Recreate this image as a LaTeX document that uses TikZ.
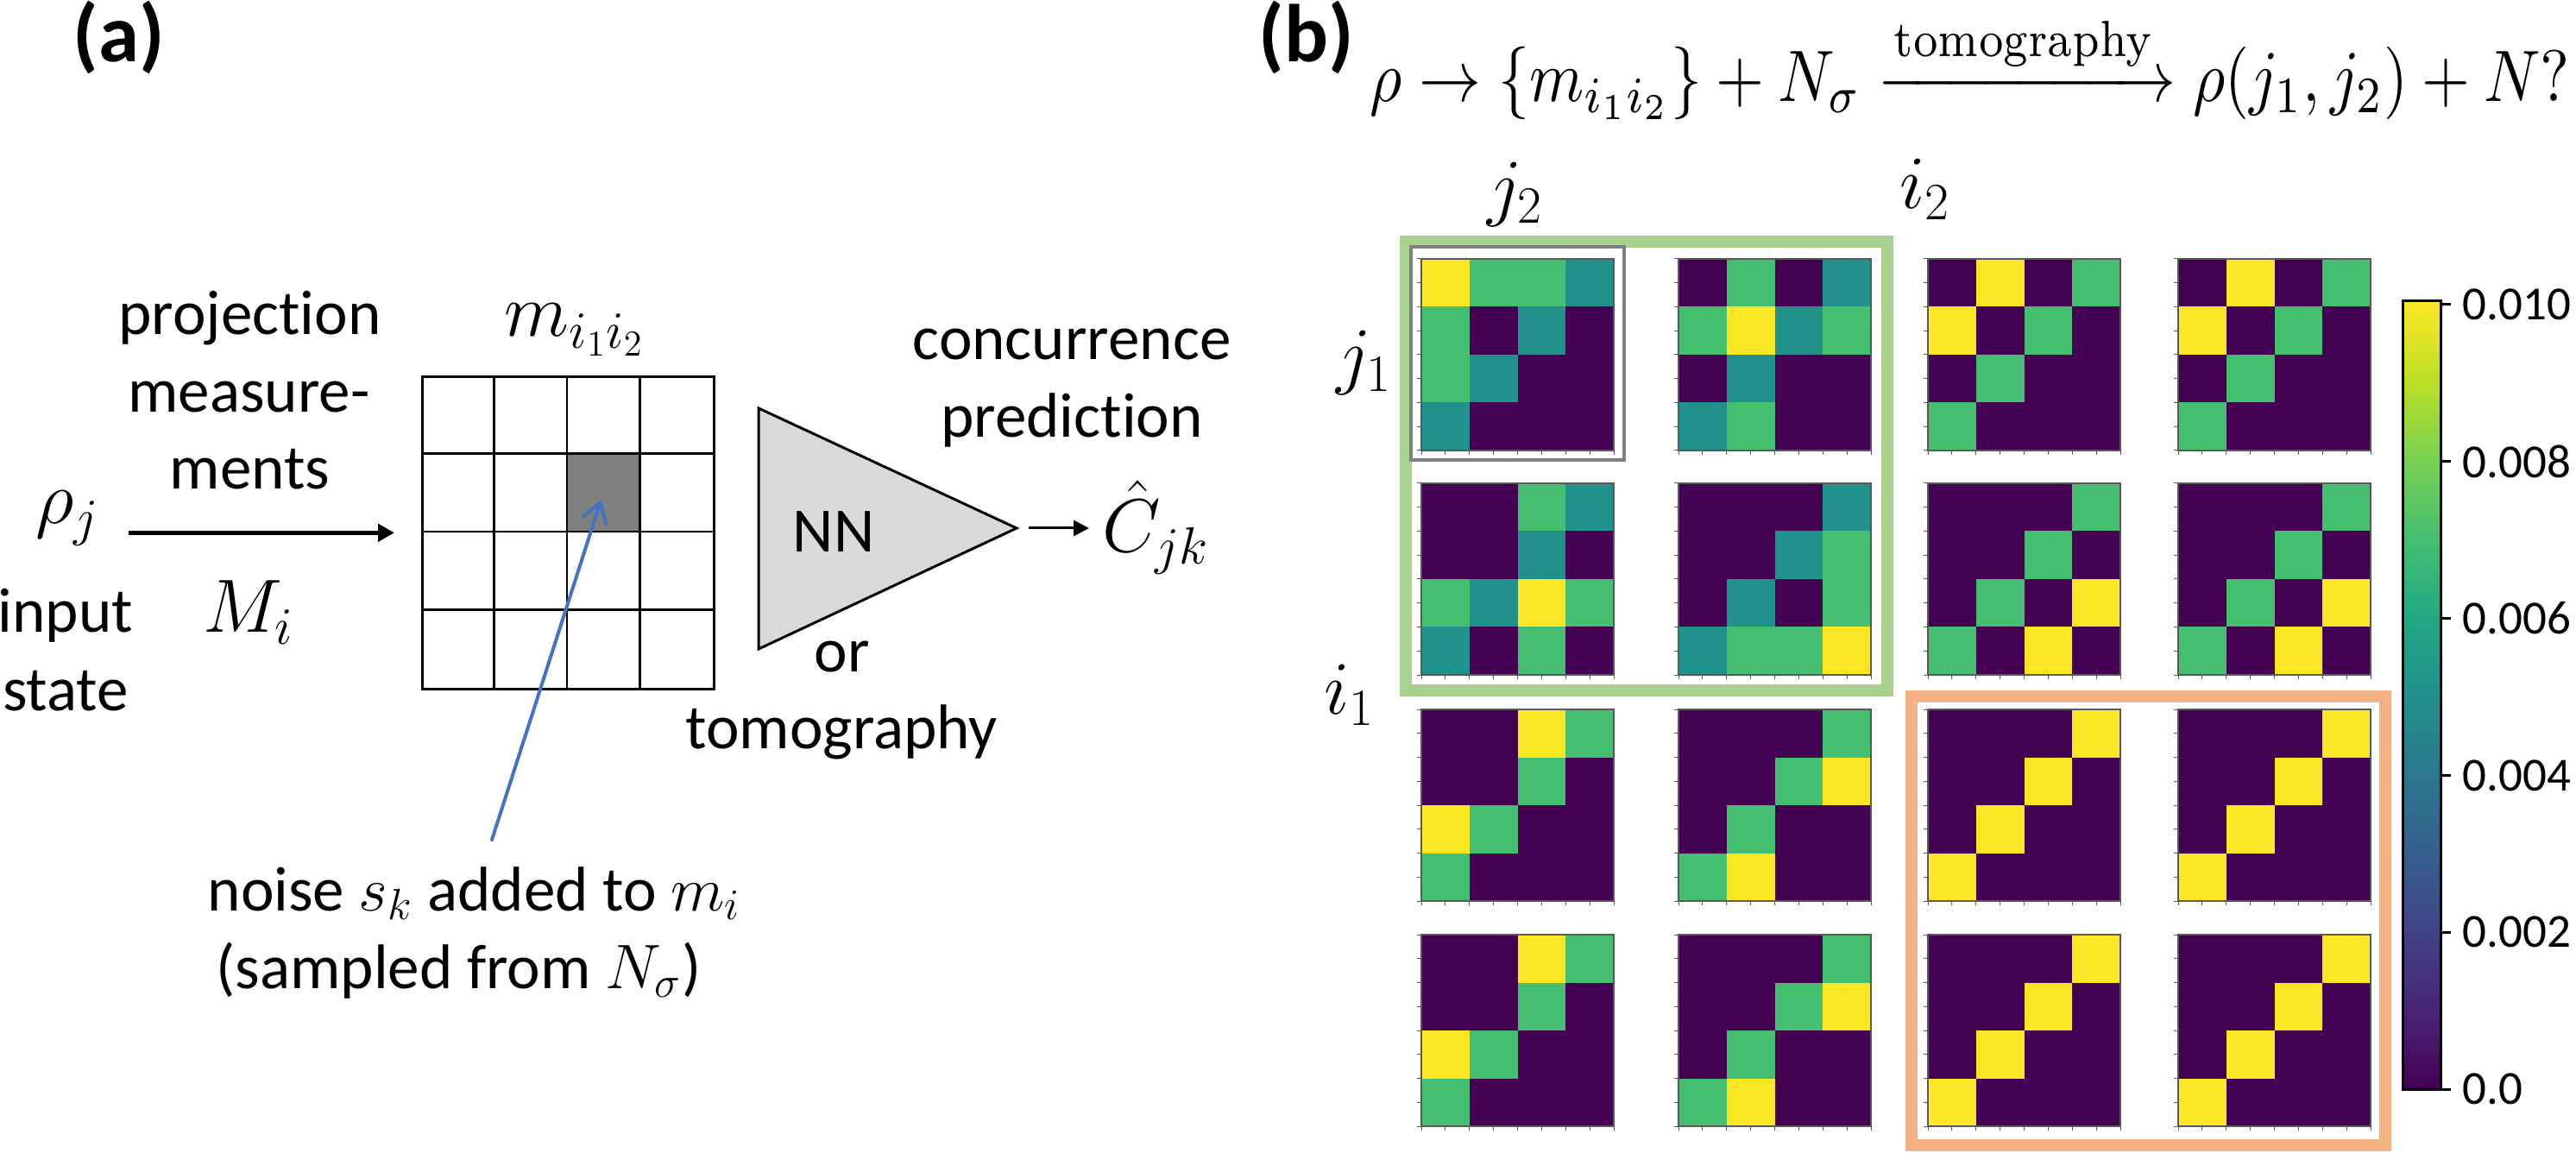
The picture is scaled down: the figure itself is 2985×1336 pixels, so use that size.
\documentclass[tikz,border=0pt]{standalone}
\usepackage{amsmath}
\usepackage{graphicx}
\usepackage{fontspec}
\newfontfamily\carl{Carlito}[Ligatures=NoCommon]
\usetikzlibrary{arrows.meta,calc}

\definecolor{hmP}{HTML}{440154}
\definecolor{hmT}{HTML}{21918C}
\definecolor{hmG}{HTML}{44BF70}
\definecolor{hmY}{HTML}{FDE725}
\definecolor{vir0}{HTML}{440154}
\definecolor{vir1}{HTML}{482475}
\definecolor{vir2}{HTML}{414487}
\definecolor{vir3}{HTML}{355F8D}
\definecolor{vir4}{HTML}{2A788E}
\definecolor{vir5}{HTML}{21918C}
\definecolor{vir6}{HTML}{22A884}
\definecolor{vir7}{HTML}{44BF70}
\definecolor{vir8}{HTML}{7AD151}
\definecolor{vir9}{HTML}{BDDF26}
\definecolor{vir10}{HTML}{FDE725}
\definecolor{boxgreen}{HTML}{A9D18E}
\definecolor{boxorange}{HTML}{F4B183}
\definecolor{nnfill}{HTML}{D9D9D9}
\definecolor{cellgray}{HTML}{808080}
\definecolor{arrowblue}{HTML}{4472C4}

\pgfdeclareverticalshading{viridis}{100bp}{color(0bp)=(vir0); color(25bp)=(vir0);
  color(30bp)=(vir1); color(35bp)=(vir2); color(40bp)=(vir3); color(45bp)=(vir4);
  color(50bp)=(vir5); color(55bp)=(vir6); color(60bp)=(vir7); color(65bp)=(vir8);
  color(70bp)=(vir9); color(75bp)=(vir10); color(100bp)=(vir10)}

\tikzset{
  spine/.style={draw=black!65, line width=0.12mm},
  hmtick/.style={draw=black!65, line width=0.1mm},
  txt/.style={font=\carl\fontsize{20.8}{25}\selectfont, inner sep=0pt},
  mth/.style={font=\fontsize{25}{30}\selectfont, inner sep=0pt},
  gridl/.style={line width=0.27mm},
  arr/.style={line width=0.5mm, -{Triangle[length=1.9mm,width=2.0mm]}},
  sarr/.style={line width=0.3mm, -{Triangle[length=1.8mm,width=1.8mm]}},
  bluearr/.style={draw=arrowblue, line width=0.4mm, line cap=round, -{Straight Barb[length=2.2mm,width=2.8mm,round]}},
  cblab/.style={font=\carl\fontsize{15.65}{18}\selectfont, inner sep=0pt, anchor=west},
  panel/.style={font=\carl\bfseries\fontsize{27}{30}\selectfont, inner sep=0pt},
}

\newcommand{\heatmap}[3]{%
  \foreach \hv [count=\hk from 0] in {#3} {%
    \pgfmathtruncatemacro{\hr}{\hk/4}%
    \pgfmathtruncatemacro{\hc}{\hk-4*\hr}%
    \fill[fill=hm\hv] ({#1+\hc*55.75},{#2+\hr*55.5}) rectangle ++(55.75,55.5);
  }%
  \draw[spine] (#1,#2) rectangle ++(223,222);
  \foreach \tk in {0,...,8} {%
    \draw[hmtick] ({#1},{#2+\tk*27.75}) -- ++(-5,0);
    \draw[hmtick] ({#1+\tk*27.875},{#2+222}) -- ++(0,5);
  }%
}

\begin{document}
\begin{tikzpicture}[x=0.1mm, y=-0.1mm]
\fill[white] (0,0) rectangle (2985,1336);
\useasboundingbox (0,0) rectangle (2985,1336);

% ---------------- panel (a) ----------------
\node[panel, anchor=base west] (pa) at (84,72) {(a)};
\node[txt, anchor=base] (p1) at (289.5,388) {projection};
\node[txt, anchor=base] (p2) at (288.5,478) {measure-};
\node[txt, anchor=base] (p3) at (289.5,567) {ments};
\node[mth, anchor=base] (rhoj) at (78,607) {$\rho_j$};
\node[txt, anchor=base] (in1) at (76,733) {input};
\node[txt, anchor=base] (in2) at (76,823) {state};
\node[mth, anchor=base] (Mi) at (288,733) {$M_i$};
\node[mth, anchor=base] (mlab) at (666,390) {$m_{i_1 i_2}$};

\node[fill=cellgray, minimum width=8.45mm, minimum height=9.05mm, inner sep=0pt] (gcell) at (699,571.5) {};
\node[draw, gridl, minimum width=33.8mm, minimum height=36.2mm, inner sep=0pt, anchor=north west] (grid) at (488,435) {};
\foreach \gx in {1,2,3} {
  \draw[gridl] ($(grid.north west)+(\gx*84.5,0)$) -- ($(grid.south west)+(\gx*84.5,0)$);
  \draw[gridl] ($(grid.north west)+(0,\gx*90.5)$) -- ($(grid.north east)+(0,\gx*90.5)$);
}

\draw[arr, shorten <=3.3mm, shorten >=3.1mm] (rhoj.east |- grid.west) -- (grid.west);

\draw[line width=0.3mm, fill=nnfill, line join=miter] (879,473) -- (1178,612) -- (879,752) -- cycle;
\coordinate (apex) at (1178,612);
\node[txt] (nn) at (966,616) {NN};
\node[txt, anchor=base] (orl) at (976,778) {or};
\node[txt, anchor=base] (tomo) at (975,867) {tomography};
\node[txt, anchor=base] (c1) at (1242,417) {concurrence};
\node[txt, anchor=base] (c2) at (1242,507) {prediction};
\node[mth, anchor=base west] (chat) at (1277,640) {$\hat{C}_{jk}$};
\draw[sarr, shorten <=1.4mm, shorten >=1.5mm] (apex) -- (chat.west |- apex);

\node[txt, anchor=base west] (n1) at (240,1055) {noise $s_k$ added to $m_i$};
\node[txt, anchor=base west] (n2) at (250,1145) {(sampled from $N_\sigma$)};
\coordinate (tail) at (570,973);
\draw[bluearr, shorten >=0.9mm] (tail) -- (gcell.center);

% ---------------- panel (b) ----------------
\node[panel, anchor=base west] (pb) at (1458,72) {(b)};
\node[inner sep=0pt, anchor=north west] (eq) at (1587,15)
  {\resizebox*{139mm}{12.3mm}{$\rho \rightarrow \{m_{i_1 i_2}\} + N_\sigma \xrightarrow{\text{tomography}} \rho(j_1, j_2) + N?$}};

\node[mth] (j2) at (1756,225) {$j_2$};
\node[mth] (i2) at (2231,219) {$i_2$};
\node[mth] (j1) at (1581,420) {$j_1$};
\node[mth] (i1) at (1564,805) {$i_1$};

\draw[draw=boxgreen, line width=1.4mm] (1628.5,280.5) rectangle (2186.5,800);
\draw[draw=boxorange, line width=1.4mm] (2214.5,807) rectangle (2764,1327);

\heatmap{1647}{300}{Y,G,G,T,G,P,T,P,G,T,P,P,T,P,P,P}
\heatmap{1945}{300}{P,G,P,T,G,Y,T,G,P,T,P,P,T,G,P,P}
\heatmap{2234}{300}{P,Y,P,G,Y,P,G,P,P,G,P,P,G,P,P,P}
\heatmap{2524}{300}{P,Y,P,G,Y,P,G,P,P,G,P,P,G,P,P,P}

\heatmap{1647}{560}{P,P,G,T,P,P,T,P,G,T,Y,G,T,P,G,P}
\heatmap{1945}{560}{P,P,P,T,P,P,T,G,P,T,P,G,T,G,G,Y}
\heatmap{2234}{560}{P,P,P,G,P,P,G,P,P,G,P,Y,G,P,Y,P}
\heatmap{2524}{560}{P,P,P,G,P,P,G,P,P,G,P,Y,G,P,Y,P}

\heatmap{1647}{822}{P,P,Y,G,P,P,G,P,Y,G,P,P,G,P,P,P}
\heatmap{1945}{822}{P,P,P,G,P,P,G,Y,P,G,P,P,G,Y,P,P}
\heatmap{2234}{822}{P,P,P,Y,P,P,Y,P,P,Y,P,P,Y,P,P,P}
\heatmap{2524}{822}{P,P,P,Y,P,P,Y,P,P,Y,P,P,Y,P,P,P}

\heatmap{1647}{1083}{P,P,Y,G,P,P,G,P,Y,G,P,P,G,P,P,P}
\heatmap{1945}{1083}{P,P,P,G,P,P,G,Y,P,G,P,P,G,Y,P,P}
\heatmap{2234}{1083}{P,P,P,Y,P,P,Y,P,P,Y,P,P,Y,P,P,P}
\heatmap{2524}{1083}{P,P,P,Y,P,P,Y,P,P,Y,P,P,Y,P,P,P}

\draw[draw=black!50, line width=0.35mm] (1635,286) rectangle (1882,533);

% colorbar
\shade[shading=viridis] (2784,349) rectangle (2828,1262);
\draw[line width=0.3mm] (2784,349) rectangle (2828,1262);
\foreach \v [count=\ci from 0] in {0.010,0.008,0.006,0.004,0.002,0.0} {
  \draw[line width=0.3mm] (2828,{353+\ci*181.8}) -- ++(12,0);
  \node[cblab] (cb\ci) at (2853,{353+\ci*181.8}) {\v};
}
\end{tikzpicture}
\end{document}
